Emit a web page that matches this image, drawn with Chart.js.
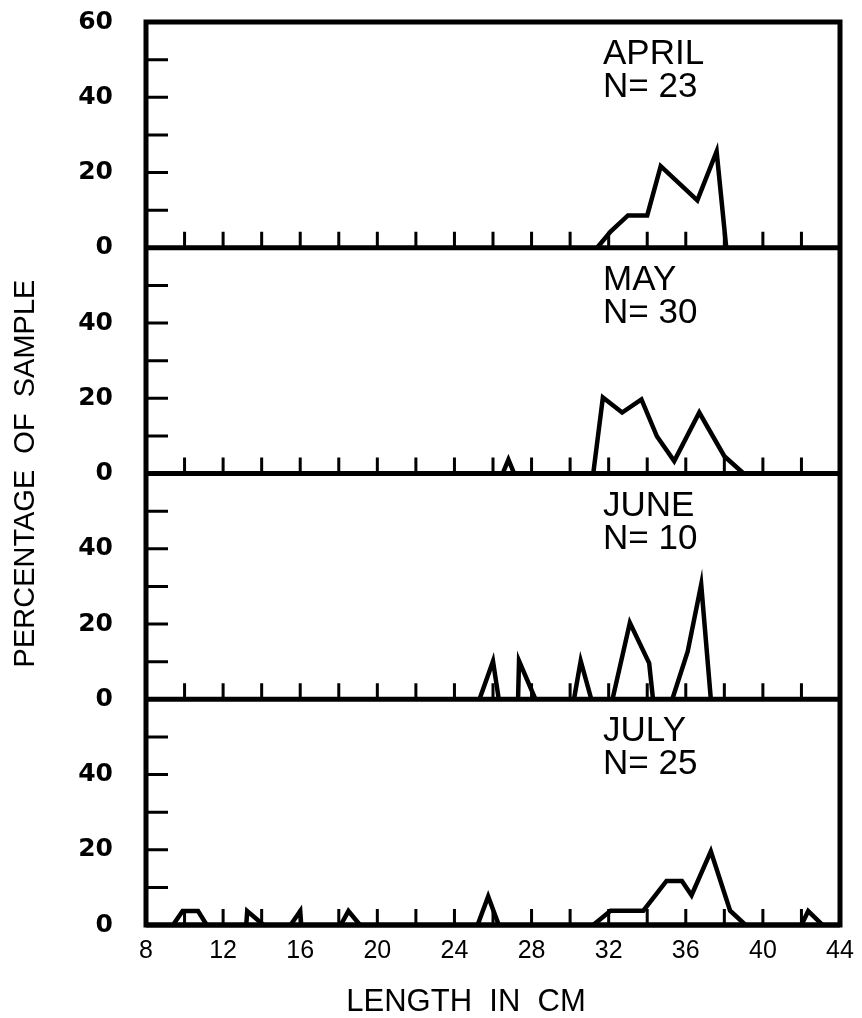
<!DOCTYPE html>
<html>
<head>
<meta charset="utf-8">
<title>Length frequency by month</title>
<script src="https://cdn.jsdelivr.net/npm/chart.js@4.4.1/dist/chart.umd.min.js"></script>
<style>
  html, body { margin: 0; padding: 0; background: #fff; }
  canvas { display: block; }
</style>
</head>
<body>
<canvas id="chart-length" width="862" height="1018"></canvas>
<script>
"use strict";

// panel names and sample sizes, top to bottom
var MONTHS = ['APRIL', 'MAY', 'JUNE', 'JULY'];
var SAMPLE_SIZES = [23, 30, 10, 25];

// length (cm) / percentage of sample, null = gap in the polygon
var aprilLength = [31.4, 32.1, 33.0, 34.0, 34.7, 36.6, 37.6, 38.1];
var aprilPercent = [0, 4.3, 8.6, 8.6, 21.7, 12.6, 25.6, 0];

var mayLength = [26.5, 26.8, 27.1, 29.0, 31.2, 31.7, 32.7, 33.7, 34.5, 35.4, 36.7, 38.0, 39.0];
var mayPercent = [0, 3.7, 0, null, 0, 20.2, 16.2, 19.7, 9.9, 3.3, 16.2, 4.6, 0];

var juneLength = [25.3, 26.0, 26.3, 26.8, 27.3, 27.35, 28.2, 29.2, 30.2, 30.55, 31.1, 31.6,
  32.2, 33.1, 34.1, 34.3, 34.8, 35.3, 36.1, 36.8, 37.3];
var junePercent = [0, 10.1, 0, null, 0, 10.2, 0, null, 0, 10.2, 0, null,
  0, 20.3, 9.6, 0, null, 0, 12.7, 30.5, 0];

var julyLength = [9.4, 9.9, 10.7, 11.15, 12.2, 13.2, 13.25, 14.1, 14.8, 15.5, 16.0, 16.05,
  17.1, 18.1, 18.5, 19.1, 22.0, 25.2, 25.75, 26.3, 28.8,
  31.2, 32.1, 33.8, 35.0, 35.8, 36.3, 37.3, 38.3, 39.1, 40.5, 42.0, 42.35, 43.1];
var julyPercent = [0, 3.7, 3.7, 0, null, 0, 3.7, 0, null, 0, 3.7, 0,
  null, 0, 3.7, 0, null, 0, 7.6, 0, null,
  0, 3.8, 3.8, 11.7, 11.7, 7.9, 19.6, 3.8, 0, null, 0, 3.7, 0];

// axis ranges and ticks
var X_MIN = 8, X_MAX = 44, X_STEP = 4, X_MINOR_STEP = 2;
var Y_MAX = 60, Y_STEP = 20, Y_MINOR_STEP = 10;

var X_TITLE = 'LENGTH  IN  CM';
var Y_TITLE = 'PERCENTAGE  OF  SAMPLE';

var PANEL_IDS = ['yApr', 'yMay', 'yJun', 'yJul'];
var SERIES = [
  [aprilLength, aprilPercent],
  [mayLength, mayPercent],
  [juneLength, junePercent],
  [julyLength, julyPercent]
];

function toPoints(xs, ys) {
  return xs.map(function(x, i) { return { x: x, y: ys[i] }; });
}

var datasets = SERIES.map(function(s, i) {
  return {
    label: MONTHS[i],
    data: toPoints(s[0], s[1]),
    yAxisID: PANEL_IDS[i],
    borderColor: '#000',
    borderWidth: 4.5,
    pointRadius: 0,
    tension: 0,
    spanGaps: false,
    fill: false
  };
});

function panelScale(isTop) {
  return {
    type: 'linear',
    position: 'left',
    stack: 'panels',
    stackWeight: 1,
    min: 0,
    max: Y_MAX,
    grid: { display: false, drawTicks: false },
    border: { display: false },
    afterFit: function(scale) {
      scale.width = 146;
      scale.paddingTop = 0;
      scale.paddingBottom = 0;
    },
    ticks: {
      stepSize: Y_STEP,
      autoSkip: false,
      padding: 33,
      color: '#000',
      font: { family: 'DejaVu Sans', weight: 'bold', size: 25 },
      callback: function(v) {
        if (v === Y_MAX && !isTop) return '';
        return v;
      }
    }
  };
}

// stacked left axes: the last defined one ends up on top
var scales = {
  x: {
    type: 'linear',
    min: X_MIN,
    max: X_MAX,
    grid: { display: false, drawTicks: false },
    border: { display: false },
    afterFit: function(scale) {
      scale.height = 93;
      scale.paddingLeft = 0;
      scale.paddingRight = 0;
    },
    ticks: {
      stepSize: X_STEP,
      autoSkip: false,
      maxRotation: 0,
      padding: 11,
      color: '#000',
      font: { family: 'Liberation Sans', size: 25 }
    }
  }
};
scales.yJul = panelScale(false);
scales.yJun = panelScale(false);
scales.yMay = panelScale(false);
scales.yApr = panelScale(true);

var framePlugin = {
  id: 'frame',
  afterDatasetsDraw: function(chart) {
    var ctx = chart.ctx;
    var area = chart.chartArea;
    var xs = chart.scales.x;
    ctx.save();
    ctx.strokeStyle = '#000';
    ctx.lineCap = 'butt';

    // inward tick marks on every panel
    ctx.lineWidth = 3;
    ctx.beginPath();
    PANEL_IDS.forEach(function(id) {
      var s = chart.scales[id];
      var base = s.getPixelForValue(0);
      for (var v = Y_MINOR_STEP; v < Y_MAX; v += Y_MINOR_STEP) {
        var y = s.getPixelForValue(v);
        ctx.moveTo(area.left, y);
        ctx.lineTo(area.left + 22, y);
      }
      for (var l = X_MIN + X_MINOR_STEP; l < X_MAX; l += X_MINOR_STEP) {
        var x = xs.getPixelForValue(l);
        ctx.moveTo(x, base);
        ctx.lineTo(x, base - 16);
      }
    });
    ctx.stroke();

    // outer frame and panel separators
    ctx.lineWidth = 5;
    ctx.strokeRect(area.left, area.top, area.right - area.left, area.bottom - area.top);
    ctx.beginPath();
    PANEL_IDS.forEach(function(id) {
      var y = chart.scales[id].getPixelForValue(0);
      ctx.moveTo(area.left, y);
      ctx.lineTo(area.right, y);
    });
    ctx.stroke();
    ctx.restore();
  },
  afterDraw: function(chart) {
    var ctx = chart.ctx;
    var area = chart.chartArea;
    ctx.save();
    ctx.fillStyle = '#000';

    // month labels
    ctx.font = '35px "Liberation Sans"';
    ctx.textAlign = 'left';
    ctx.textBaseline = 'alphabetic';
    PANEL_IDS.forEach(function(id, i) {
      var top = chart.scales[id].getPixelForValue(Y_MAX);
      ctx.fillText(MONTHS[i], 603, top + 42);
      ctx.fillText('N= ' + SAMPLE_SIZES[i], 603, top + 75);
    });

    // axis titles
    ctx.font = '31px "Liberation Sans"';
    ctx.textAlign = 'center';
    ctx.fillText(X_TITLE, 466, 1011);

    ctx.font = '29px "Liberation Sans"';
    ctx.translate(26, (area.top + area.bottom) / 2);
    ctx.rotate(-Math.PI / 2);
    ctx.textBaseline = 'middle';
    ctx.fillText(Y_TITLE, 0, 0);
    ctx.restore();
  }
};

new Chart(document.getElementById('chart-length'), {
  type: 'line',
  data: { datasets: datasets },
  options: {
    responsive: false,
    animation: false,
    layout: { padding: { top: 22, right: 22, left: 0, bottom: 0 } },
    plugins: {
      legend: { display: false },
      tooltip: { enabled: false }
    },
    scales: scales
  },
  plugins: [framePlugin]
});
</script>
</body>
</html>
